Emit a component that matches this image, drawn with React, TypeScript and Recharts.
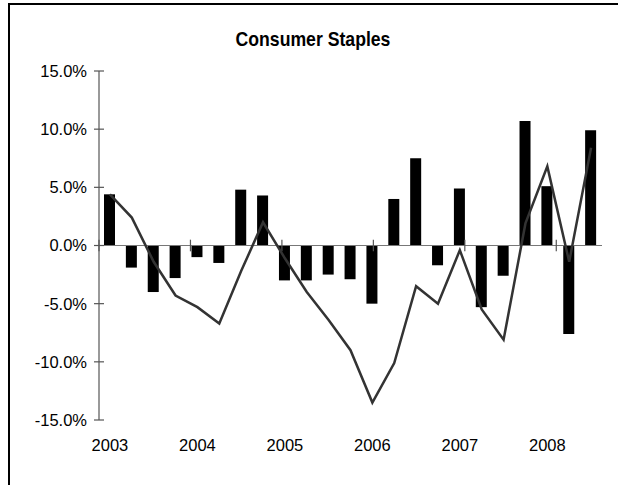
import React from 'react'
import { ComposedChart, Bar, Line, XAxis, YAxis, ReferenceLine } from 'recharts'

const quarters = [
  '2003Q1', '2003Q2', '2003Q3', '2003Q4',
  '2004Q1', '2004Q2', '2004Q3', '2004Q4',
  '2005Q1', '2005Q2', '2005Q3', '2005Q4',
  '2006Q1', '2006Q2', '2006Q3', '2006Q4',
  '2007Q1', '2007Q2', '2007Q3', '2007Q4',
  '2008Q1', '2008Q2', '2008Q3',
]

// quarterly return (bars)
const quarterly = [
  4.4, -1.9, -4.0, -2.8, -1.0, -1.5, 4.8, 4.3,
  -3.0, -3.0, -2.5, -2.9, -5.0, 4.0, 7.5, -1.7,
  4.9, -5.3, -2.6, 10.7, 5.1, -7.6, 9.9,
]

// rolling return (line)
const rolling = [
  4.4, 2.4, -1.4, -4.3, -5.3, -6.7, -2.2, 2.0,
  -1.1, -4.0, -6.4, -9.0, -13.5, -10.1, -3.5, -5.0,
  -0.4, -5.5, -8.1, 1.9, 6.8, -1.4, 8.4,
]

const yTicks = [-15, -10, -5, 0, 5, 10, 15]
const yearStarts = [0, 4, 8, 12, 16, 20]

const data = quarters.map((q, i) => ({ q, bar: quarterly[i], line: rolling[i] }))

const font = 'Arial, Liberation Sans, Helvetica, sans-serif'

function YTick(props: any) {
  const { x, y, payload } = props
  return (
    <g>
      <line x1={x - 5} x2={x + 5} y1={y} y2={y} stroke="#555" strokeWidth={1.2} />
      <text x={x - 12} y={y} dy="0.36em" textAnchor="end" fontSize={16.5} fontFamily={font} fill="#000">
        {payload.value.toFixed(1)}%
      </text>
    </g>
  )
}

export default function App() {
  return (
    <div style={{ position: 'absolute', left: 0, top: 0, width: 618, height: 485, background: '#fff' }}>
      <div style={{ position: 'absolute', left: 8, top: 3, width: 610, height: 2, background: '#000' }} />
      <div style={{ position: 'absolute', left: 8, top: 3, width: 2, height: 482, background: '#000' }} />
      <div
        style={{
          position: 'absolute', left: 213, top: 26, width: 200, textAlign: 'center',
          fontFamily: font, fontWeight: 'bold', fontSize: 21, lineHeight: '26px', color: '#000',
          transform: 'scaleX(0.84)', transformOrigin: '100px 0',
        }}
      >
        Consumer Staples
      </div>
      <ComposedChart
        width={618}
        height={485}
        data={data}
        margin={{ top: 71, right: 16, left: 0, bottom: 25 }}
        style={{ position: 'absolute', left: 0, top: 0 }}
      >
        <XAxis
          dataKey="q"
          interval={0}
          axisLine={false}
          tickLine={false}
          tickSize={0}
          tickMargin={19}
          height={40}
          tick={{ fontSize: 16.5, fontFamily: font, fill: '#000' }}
          tickFormatter={(q: string) => (q.endsWith('Q1') ? q.slice(0, 4) : '')}
        />
        <XAxis xAxisId="num" type="number" domain={[0, 23]} allowDataOverflow hide />
        <YAxis
          width={99}
          domain={[-15, 15]}
          ticks={yTicks}
          interval={0}
          axisLine={{ stroke: '#555', strokeWidth: 1.2 }}
          tickLine={false}
          tickSize={0}
          tickMargin={0}
          tick={<YTick />}
        />
        <ReferenceLine y={0} stroke="#777" strokeWidth={1.2} />
        {yearStarts.map((b) => (
          <ReferenceLine
            key={b}
            xAxisId="num"
            segment={[{ x: b, y: -0.5 }, { x: b, y: 0.5 }]}
            stroke="#555"
            strokeWidth={1.2}
          />
        ))}
        <Bar dataKey="bar" fill="#000" barSize={11} isAnimationActive={false} />
        <Line
          dataKey="line"
          type="linear"
          stroke="#333"
          strokeWidth={2.5}
          dot={false}
          activeDot={false}
          isAnimationActive={false}
        />
      </ComposedChart>
    </div>
  )
}
